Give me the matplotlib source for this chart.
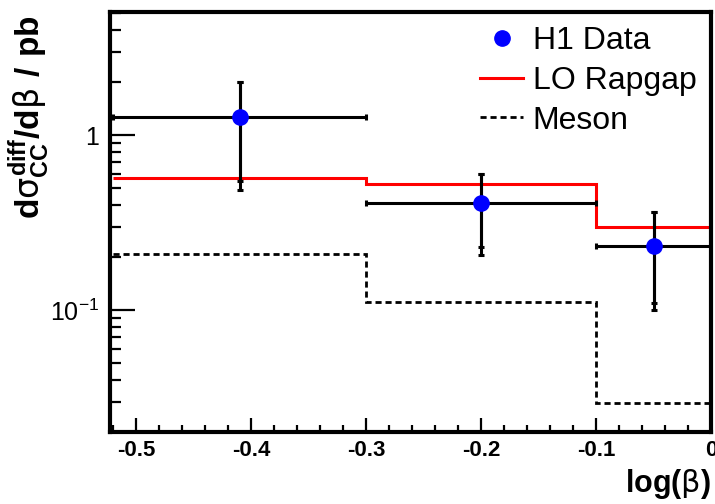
import numpy as np
import matplotlib.pyplot as plt
from matplotlib.ticker import FixedLocator, NullFormatter, LogLocator

plt.rcParams['font.family'] = ['Liberation Sans', 'DejaVu Sans']
plt.rcParams['mathtext.fontset'] = 'custom'
plt.rcParams['mathtext.rm'] = 'Liberation Sans'
plt.rcParams['mathtext.bf'] = 'Liberation Sans:bold'
plt.rcParams['mathtext.it'] = 'DejaVu Sans'

# log(beta) bins
bin_edges = [-0.52, -0.3, -0.1, 0.0]
bin_centres = [-0.41, -0.2, -0.05]

# H1 measurement (pb)
h1_xsec = [1.27, 0.41, 0.232]
tot_up = [2.00, 0.60, 0.363]
tot_down = [0.485, 0.206, 0.100]
stat_down = [0.545, 0.229, 0.109]

# model predictions per bin (pb)
rapgap = [0.568, 0.525, 0.298]
meson = [0.209, 0.111, 0.0294]

fig = plt.figure(figsize=(7.15, 5.04), dpi=100)
ax = fig.add_axes([0.1538, 0.1429, 0.8406, 0.8333])

xerr = np.array([[c - lo for c, lo in zip(bin_centres, bin_edges[:-1])],
                 [hi - c for c, hi in zip(bin_centres, bin_edges[1:])]])
yerr_tot = np.array([[v - d for v, d in zip(h1_xsec, tot_down)],
                     [u - v for v, u in zip(h1_xsec, tot_up)]])
yerr_stat = np.array([[v - d for v, d in zip(h1_xsec, stat_down)],
                      [u - v for v, u in zip(h1_xsec, tot_up)]])

# model histograms
ax.stairs(rapgap, bin_edges, baseline=None, color='#ff0000', lw=2.2,
          label='LO Rapgap', zorder=2)
ax.stairs(meson, bin_edges, baseline=None, color='black', lw=2.0, ls=(0, (2.2, 1.4)),
          label='Meson', zorder=2)

# data with total and statistical error bars
ax.errorbar(bin_centres, h1_xsec, xerr=xerr, yerr=yerr_tot, fmt='none', ecolor='black',
            elinewidth=2.2, capsize=2.5, capthick=2.2, zorder=3)
ax.errorbar(bin_centres, h1_xsec, yerr=yerr_stat, fmt='none', ecolor='black',
            elinewidth=2.2, capsize=2.5, capthick=2.2, zorder=3)
ax.plot(bin_centres, h1_xsec, 'o', color='#0000ff', ms=11, mec='#0000ff', zorder=4,
        label='H1 Data', ls='none')

ax.set_yscale('log')
ax.set_xlim(-0.523, 0.0)
ax.set_ylim(0.0201, 5.05)

ax.set_xticks([-0.5, -0.4, -0.3, -0.2, -0.1, 0.0])
ax.set_xticklabels(['-0.5', '-0.4', '-0.3', '-0.2', '-0.1', '0'], fontweight='bold', fontsize=16)
ax.xaxis.set_minor_locator(FixedLocator(np.arange(-0.52, 0.001, 0.02)))
ax.yaxis.set_major_locator(FixedLocator([0.1, 1.0]))
ax.set_yticklabels(['$\\mathregular{10^{-1}}$', '1'], fontsize=18)
ax.yaxis.set_minor_locator(LogLocator(base=10, subs=np.arange(2, 10)))
ax.yaxis.set_minor_formatter(NullFormatter())

ax.tick_params(which='both', direction='in', top=False, right=False, width=1.6)
ax.tick_params(axis='x', which='major', length=10, pad=6)
ax.tick_params(axis='x', which='minor', length=5)
ax.tick_params(axis='y', which='major', length=18, pad=8)
ax.tick_params(axis='y', which='minor', length=8)
for s in ax.spines.values():
    s.set_linewidth(3.0)

ax.set_ylabel(r'$\mathbf{d}\sigma^{\mathbf{diff}}_{\mathbf{CC}}\mathbf{/d}\beta\ \mathbf{/\ pb}$',
              fontsize=24, loc='top')
ax.yaxis.set_label_coords(-0.097, 0.993)
ax.set_xlabel(r'$\mathbf{log(}\beta\mathbf{)}$', fontsize=22, loc='right', labelpad=4)

handles, labels = ax.get_legend_handles_labels()
order = [labels.index('H1 Data'), labels.index('LO Rapgap'), labels.index('Meson')]
ax.legend([handles[i] for i in order], [labels[i] for i in order], loc='upper right',
          bbox_to_anchor=(1.0, 1.0), frameon=False, fontsize=23, handlelength=1.35,
          handletextpad=0.3, labelspacing=0.3, borderaxespad=0.05)

fig.savefig('out.png', dpi=100)
